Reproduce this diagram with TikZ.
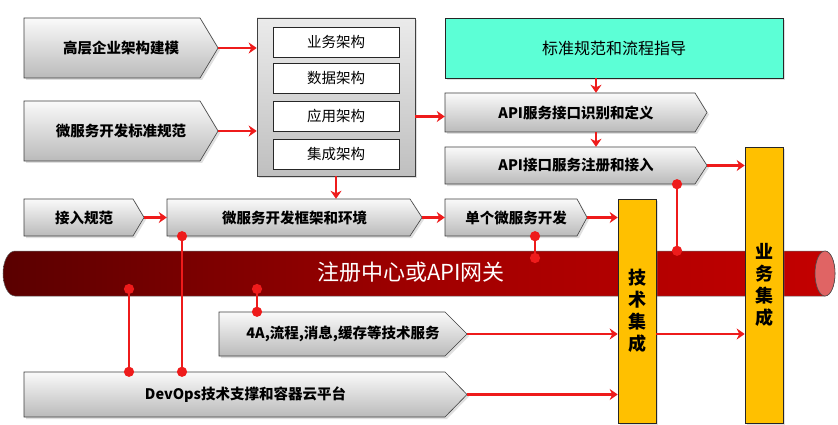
\documentclass[tikz,border=0pt]{standalone}
\usepackage{fontspec}
\setmainfont{Noto Sans CJK SC}
\usetikzlibrary{arrows.meta,shadows}
\definecolor{lnred}{HTML}{EE1B1B}
\definecolor{tealbox}{HTML}{5CFFD6}
\definecolor{barorange}{HTML}{FFC000}
\definecolor{busdark}{HTML}{5A0000}
\definecolor{busmid}{HTML}{A00000}
\definecolor{buslight}{HTML}{C40000}
\definecolor{busend}{HTML}{E06464}
% #1 name, #2 left x, #3 top y, #4 body right x, #5 tip x, #6 bottom y, #7 text
\newcommand\pentnode[7]{%
  \shade[pentsh] (#2,#3) -- (#4,#3) -- (#5,{(#3+#6)/2}) -- (#4,#6) -- (#2,#6) -- cycle;
  \node[penttext, minimum width={#5pt-#2pt}, minimum height={#6pt-#3pt}] (#1) at ({(#2+#5)/2},{(#3+#6)/2}) {#7};
  \coordinate (#1-tip) at (#5,{(#3+#6)/2});
}
\begin{document}
\begin{tikzpicture}[x=1pt,y=-1pt,
  shad/.style={drop shadow={shadow xshift=2pt,shadow yshift=-2pt,opacity=.25}},
  pentsh/.style={draw=black!75, line width=0.6pt, top color=black!2, bottom color=black!27, shad},
  penttext/.style={inner sep=0pt, font=\bfseries\fontsize{14.5}{16}\selectfont},
  inbox/.style={draw=black!85, fill=white, line width=0.6pt, minimum width=126pt,
    minimum height=30pt, inner sep=0pt, font=\fontsize{14.5}{16}\selectfont},
  bar/.style={draw=black!85, fill=barorange, line width=0.6pt, minimum width=38pt,
    inner sep=0pt, align=center, shad, font=\bfseries\fontsize{18}{22}\selectfont},
  arr/.style={draw=lnred, line width=2.6pt, -{Stealth[length=8pt,width=11pt,inset=2.5pt]}},
  dotl/.style={draw=lnred, line width=2.6pt, {Circle[length=10pt]}-{Circle[length=10pt]},
    shorten <=-5pt, shorten >=-5pt}]
\path[fill=white] (0,0) rectangle (838,425);

% left column
\pentnode{gc}{24}{18}{200}{218}{78}{高层企业架构建模}
\pentnode{ws}{24}{101}{200}{218}{161}{微服务开发标准规范}

% architecture container
\node[draw=black!75, line width=0.6pt, top color=black!8, bottom color=black!25, minimum width=158pt, minimum height=158pt, shad] (cont) at (336,97) {};
\node[inbox] (ia) at (336,42) {业务架构};
\node[inbox] (ib) at (336,78) {数据架构};
\node[inbox] (ic) at (336,116) {应用架构};
\node[inbox] (id) at (336,154) {集成架构};

% right top
\node[draw=black!85, line width=0.6pt, fill=tealbox, minimum width=338pt, minimum height=60pt, shad, font=\fontsize{16}{18}\selectfont] (std) at (614,48) {标准规范和流程指导};
\pentnode{api1}{445}{93}{695}{707}{132}{API服务接口识别和定义}
\pentnode{api2}{445}{147}{695}{707}{184}{API接口服务注册和接入}

% middle row
\pentnode{jr}{24}{199}{133}{144}{236}{接入规范}
\pentnode{fw}{167}{199}{410}{422}{236}{微服务开发框架和环境}
\pentnode{sg}{445}{199}{577}{587}{236}{单个微服务开发}

% bus
\shade[left color=busdark, right color=buslight, middle color=busmid, draw=black!60, line width=0.5pt]
  (15,251) -- (825,251) arc[start angle=90, end angle=-90, x radius=10pt, y radius=22.5pt]
  -- (15,296) arc[start angle=270, end angle=90, x radius=12pt, y radius=22.5pt] -- cycle;
\draw[fill=busend, draw=black!70, line width=0.6pt] (825,273.5) ellipse[x radius=10pt, y radius=22.5pt];
\node[minimum width=830pt, minimum height=45pt, inner sep=0pt] (bus) at (420,273.5) {};
\node[text=white, font=\fontsize{22}{24}\selectfont] (bustxt) at (411,272) {注册中心或API网关};

% lower rows
\pentnode{fa}{219}{312}{445}{467}{356}{4A,流程,消息,缓存等技术服务}
\pentnode{dev}{24}{372}{445}{467}{417}{DevOps技术支撑和容器云平台}

% integration bars
\node[bar, minimum height=224pt] (tech) at (637,311) {技\\术\\集\\成};
\node[bar, minimum height=276pt] (biz) at (764,285) {业\\务\\集\\成};

% arrows
\draw[arr] (gc-tip) -- (gc-tip -| cont.west);
\draw[arr] (ws-tip) -- (ws-tip -| cont.west);
\coordinate (ain) at ([yshift=-4pt]api1.west);
\draw[arr] (ain -| cont.east) -- (ain);
\coordinate (tx) at ([xshift=-18pt]std.south);
\draw[arr] (tx) -- (tx |- api1.north);
\draw[arr] (tx |- api1.south) -- (tx |- api2.north);
\draw[arr] (api2-tip) -- (api2-tip -| biz.west);
\draw[arr] (cont.south) -- (cont.south |- fw.north);
\draw[arr] (jr-tip) -- (fw.west);
\draw[arr] (fw-tip) -- (sg.west);
\draw[arr] (sg-tip) -- (sg-tip -| tech.west);
\draw[arr] (fa-tip) -- (fa-tip -| tech.west);
\draw[arr] (tech.east |- fa-tip) -- (biz.west |- fa-tip);
\draw[arr] (dev-tip) -- (dev-tip -| tech.west);

% dot connectors
\coordinate (x1) at (182,0);
\coordinate (x2) at (129,289);
\coordinate (x3) at (257,289);
\coordinate (x4) at (535,258);
\coordinate (x5) at (677,0);
\draw[dotl] (x1 |- fw.south) -- (x1 |- dev.north);
\draw[dotl] (x2) -- (x2 |- dev.north);
\draw[dotl] (x3) -- (x3 |- fa.north);
\draw[dotl] (x4 |- sg.south) -- (x4);
\draw[dotl] (x5 |- api2.south) -- (x5 |- bus.north);
\end{tikzpicture}
\end{document}
